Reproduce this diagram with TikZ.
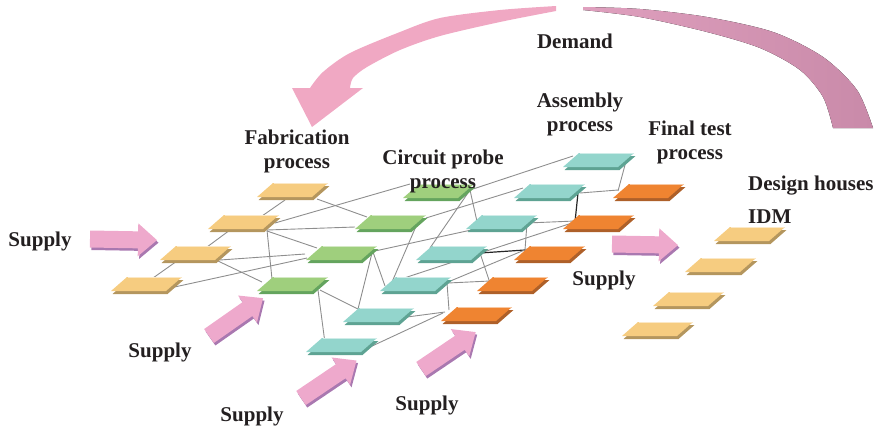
\documentclass[tikz,border=0pt]{standalone}
\usepackage{fontspec}
\setmainfont{Liberation Serif}
\usetikzlibrary{calc}
\definecolor{txt}{HTML}{231F20}
\definecolor{linegray}{HTML}{8E8E8E}
\definecolor{fabf}{HTML}{F6CC80}
\definecolor{fabs}{HTML}{B4965E}
\definecolor{prbf}{HTML}{9FCF7D}
\definecolor{prbs}{HTML}{64A45E}
\definecolor{asmf}{HTML}{93D5CC}
\definecolor{asms}{HTML}{5EA393}
\definecolor{tstf}{HTML}{EF8431}
\definecolor{tsts}{HTML}{AE6029}
\definecolor{apink}{HTML}{EEA9CC}
\definecolor{ashade}{HTML}{A978B0}
\definecolor{dpink}{HTML}{F0A8C3}
\definecolor{dmauveL}{HTML}{DFA0BE}
\definecolor{dmauveR}{HTML}{C98AA9}
\newcommand\tiledraw[2]{%
  \fill[#2s] ([shift={(1.5,3)}]#1) ++(-35,6) -- ++(55,0) -- ++(16,-14) -- ++(-55,0) -- cycle;
  \fill[#2f] (#1) ++(-35,6) -- ++(55,0) -- ++(16,-14) -- ++(-55,0) -- cycle;
  \draw[#2f!45!white, line width=1.2pt] (#1) ++(-18.5,-7.4) -- ++(54,0);
}
\newcommand\supplyarrow[4]{% x, y, angle, length
  \begin{scope}[shift={(#1+1.5,#2+2.5)}, rotate=#3]
    \fill[ashade] (0,-8.5) -- (#4-19,-8.5) -- (#4-19,-16.5) -- (#4,0) -- (#4-19,16.5) -- (#4-19,8.5) -- (0,8.5) -- cycle;
  \end{scope}
  \begin{scope}[shift={(#1,#2)}, rotate=#3]
    \fill[apink] (0,-8.5) -- (#4-19,-8.5) -- (#4-19,-16.5) -- (#4,0) -- (#4-19,16.5) -- (#4-19,8.5) -- (0,8.5) -- cycle;
  \end{scope}
}
\begin{document}
\begin{tikzpicture}[x=1pt,y=-1pt,
  lbl/.style={font=\bfseries\fontsize{21}{24}\selectfont, text=txt, align=center, inner sep=0pt},
  link/.style={draw=linegray, line width=0.9pt},
  blink/.style={draw=black!85, line width=1.2pt}]
\useasboundingbox (0,0) rectangle (878,429);

% tile positions
\coordinate (F1) at (292,191); \coordinate (F2) at (243,223);
\coordinate (F3) at (195,254); \coordinate (F4) at (146,285);
\coordinate (G1) at (438,192); \coordinate (G2) at (390,223);
\coordinate (G3) at (341,254); \coordinate (G4) at (292,285);
\coordinate (A1) at (598,161); \coordinate (A2) at (549,192);
\coordinate (A3) at (501,223); \coordinate (A4) at (451,254);
\coordinate (A5) at (415,285); \coordinate (A6) at (378,316);
\coordinate (A7) at (341,346);
\coordinate (O1) at (648,192); \coordinate (O2) at (598,223);
\coordinate (O3) at (549,254); \coordinate (O4) at (512,285);
\coordinate (O5) at (476,315);
\coordinate (D1) at (749,235); \coordinate (D2) at (720,266);
\coordinate (D3) at (688,300); \coordinate (D4) at (657,330);

% demand arrow
\fill[dpink] plot[smooth] coordinates {(556,6) (500,10) (440,18) (400,32) (350,53) (323,72) (310,88)}
  -- (292,88) -- (312,127) -- (363,88) -- (350,88)
  -- plot[smooth] coordinates {(350,88) (353,78) (367,67) (400,50) (440,36) (500,22) (556,11)} -- cycle;
\fill[left color=dmauveL, right color=dmauveR] plot[smooth] coordinates {(583,7) (640,9) (707,17) (773,32) (823,57) (857,90) (873,128)}
  -- (833,128)
  -- plot[smooth] coordinates {(833,128) (823,97) (800,70) (760,48) (707,32) (640,17) (583,10)} -- cycle;

% connectors
\draw[link] ([shift={(-7,9)}]F1) -- ([shift={(19,-7)}]F2);
\draw[link] ([shift={(-13,7)}]F2) -- ([shift={(12,-7)}]F3);
\draw[link] ([shift={(-18,7)}]F3) -- ([shift={(7,-7)}]F4);
\draw[link] ([shift={(25,8)}]F1) -- ([shift={(-23,-6)}]G2);
\draw[link] ([shift={(32,0)}]F2) -- ([shift={(-28,-8)}]G1);
\draw[link] ([shift={(24,7)}]F2) -- ([shift={(-35,4)}]G2);
\draw[link] ([shift={(24,7)}]F2) -- ([shift={(-20,-6)}]G4);
\draw[link] ([shift={(24,8)}]F2) -- ([shift={(-24,-6)}]G3);
\draw[link] ([shift={(25,6)}]F3) -- ([shift={(-36,0)}]G3);
\draw[link] ([shift={(23,7)}]F3) -- ([shift={(-30,-3)}]G4);
\draw[link] ([shift={(24,3)}]F4) -- ([shift={(-34,4)}]G3);
\draw[link] ([shift={(32,-2)}]G1) -- ([shift={(-25,-5)}]A1);
\draw[link] ([shift={(32,-2)}]G1) -- ([shift={(-23,3)}]A3);
\draw[link] ([shift={(32,-2)}]G1) -- ([shift={(-21,-6)}]A4);
\draw[link] ([shift={(36,-5)}]G2) -- ([shift={(-26,-4)}]A2);
\draw[link] ([shift={(27,1)}]G2) -- ([shift={(-23,-3)}]A5);
\draw[link] ([shift={(34,-3)}]G3) -- ([shift={(-16,4)}]A3);
\draw[link] ([shift={(32,-2)}]G3) -- ([shift={(-30,1)}]A5);
\draw[link] ([shift={(31,-1)}]G3) -- ([shift={(-20,-7)}]A6);
\draw[link] ([shift={(28,5)}]G4) -- ([shift={(-20,-7)}]A6);
\draw[link] ([shift={(26,5)}]G4) -- ([shift={(-16,-3)}]A7);
\draw[link] ([shift={(27,4)}]A1) -- ([shift={(-30,-1)}]O1);
\draw[link] ([shift={(31,1)}]A2) -- ([shift={(-30,-2)}]O1);
\draw[blink] ([shift={(29,1)}]A2) -- ([shift={(-23,-1)}]O2);
\draw[link] ([shift={(26,0)}]A3) -- ([shift={(-23,-2)}]O2);
\draw[link] ([shift={(26,0)}]A3) -- ([shift={(-24,-4)}]O3);
\draw[blink] ([shift={(29,-1)}]A4) -- ([shift={(-24,-4)}]O3);
\draw[link] ([shift={(29,-1)}]A4) -- ([shift={(-22,-2)}]O4);
\draw[link] ([shift={(-20,-4)}]A5) -- ([shift={(-23,-1)}]O2);
\draw[link] ([shift={(33,-3)}]A5) -- ([shift={(-22,-5)}]O3);
\draw[link] ([shift={(33,-2)}]A5) -- ([shift={(-22,-4)}]O4);
\draw[link] ([shift={(32,-2)}]A5) -- ([shift={(-27,-5)}]O5);
\draw[link] ([shift={(29,1)}]A6) -- ([shift={(-31,-3)}]O5);
\draw[link] ([shift={(29,1)}]A7) -- ([shift={(-33,-2)}]O5);

% tiles
\tiledraw{A1}{asm}
\tiledraw{F1}{fab}\tiledraw{G1}{prb}\tiledraw{A2}{asm}\tiledraw{O1}{tst}
\tiledraw{F2}{fab}\tiledraw{G2}{prb}\tiledraw{A3}{asm}\tiledraw{O2}{tst}
\tiledraw{D1}{fab}
\tiledraw{F3}{fab}\tiledraw{G3}{prb}\tiledraw{A4}{asm}\tiledraw{O3}{tst}
\tiledraw{D2}{fab}
\tiledraw{F4}{fab}\tiledraw{G4}{prb}\tiledraw{A5}{asm}\tiledraw{O4}{tst}
\tiledraw{D3}{fab}
\tiledraw{A6}{asm}\tiledraw{O5}{tst}
\tiledraw{D4}{fab}
\tiledraw{A7}{asm}

% supply arrows
\supplyarrow{90}{239}{-1}{67}
\supplyarrow{209}{336}{35}{66}
\supplyarrow{301}{398}{34}{67}
\supplyarrow{421}{369}{34}{66}
\supplyarrow{612}{244}{-1}{66}

% labels
\node[lbl] (tDemand) at (575,41) {Demand};
\node[lbl] (tAsm) at (580,114) {Assembly\\process};
\node[lbl] (tTest) at (690,142) {Final test\\process};
\node[lbl] (tFab) at (297,151) {Fabrication\\process};
\node[lbl] (tProbe) at (443,171) {Circuit probe\\process};
\node[lbl, anchor=west] (tDesign) at (748,186) {Design houses};
\node[lbl, anchor=west] (tIDM) at (748,217) {IDM};
\node[lbl] (tS1) at (40,241) {Supply};
\node[lbl] (tS2) at (160,352) {Supply};
\node[lbl] (tS3) at (252,416) {Supply};
\node[lbl] (tS4) at (427,405) {Supply};
\node[lbl] (tS5) at (604,280) {Supply};
\end{tikzpicture}
\end{document}
